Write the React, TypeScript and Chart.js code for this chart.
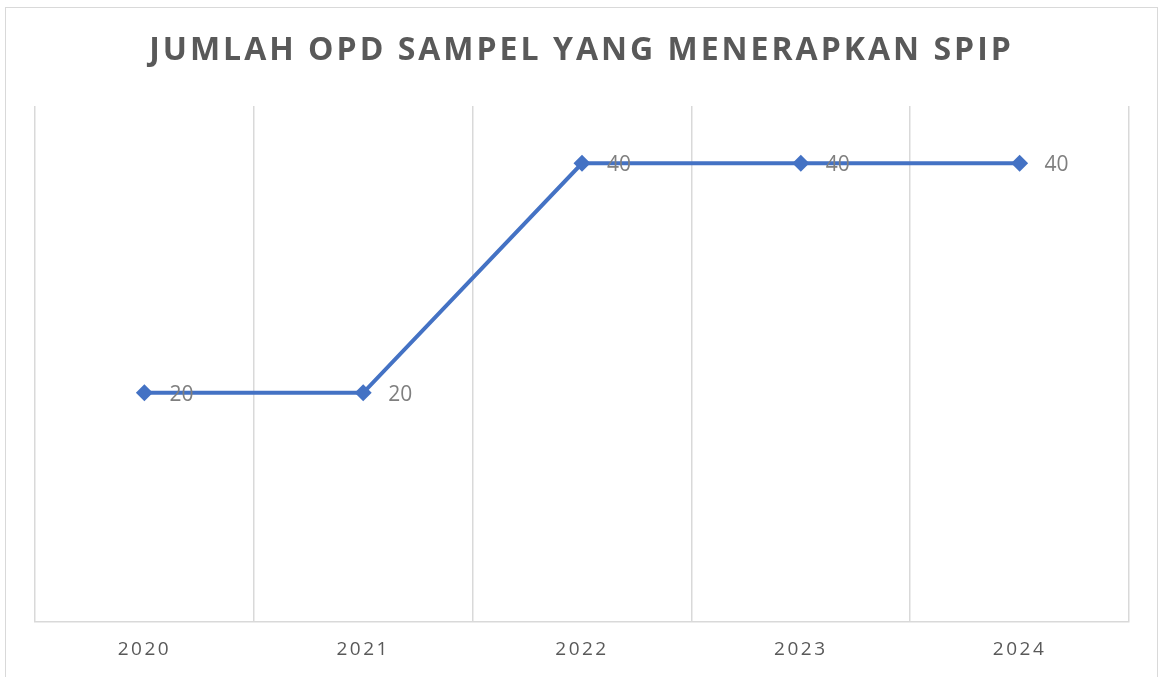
import React, { useEffect, useRef } from "react";
import { Chart, registerables } from "chart.js";

Chart.register(...registerables);

const categories = ["2020", "2021", "2022", "2023", "2024"];
const values = [20, 20, 40, 40, 40];
const chartTitle = "JUMLAH OPD SAMPEL YANG MENERAPKAN SPIP";

const spacingPlugin = {
  id: "spacing",
  beforeDraw(chart: any) {
    chart.ctx.letterSpacing = "2.5px";
  },
};

const labelsPlugin = {
  id: "valueLabels",
  afterDatasetsDraw(chart: any) {
    const ctx = chart.ctx;
    ctx.save();
    ctx.letterSpacing = "0px";
    ctx.font = "21px 'Open Sans'";
    ctx.fillStyle = "#7f7f7f";
    ctx.textAlign = "left";
    ctx.textBaseline = "middle";
    const meta = chart.getDatasetMeta(0);
    meta.data.forEach((pt: any, i: number) => {
      ctx.fillText(String(values[i]), pt.x + 25, pt.y + 2);
    });
    ctx.restore();
  },
};

const titlePlugin = {
  id: "customTitle",
  afterDraw(chart: any) {
    const ctx = chart.ctx;
    ctx.save();
    ctx.letterSpacing = "3px";
    ctx.font = "bold 32px 'Open Sans'";
    ctx.fillStyle = "#595959";
    ctx.textAlign = "center";
    ctx.textBaseline = "middle";
    ctx.fillText(chartTitle, 581.5, 51);
    ctx.restore();
  },
};

export default function App() {
  const ref = useRef<HTMLCanvasElement>(null);
  useEffect(() => {
    document.body.style.margin = "0";
    const chart = new Chart(ref.current!, {
      type: "line",
      data: {
        labels: categories,
        datasets: [
          {
            data: values,
            borderColor: "#4472c4",
            backgroundColor: "#4472c4",
            borderWidth: 4,
            pointStyle: "rectRot",
            pointRadius: 8.5,
            pointBorderWidth: 0,
            pointBackgroundColor: "#4472c4",
            tension: 0,
          },
        ],
      },
      options: {
        animation: false,
        responsive: false,
        maintainAspectRatio: false,
        layout: { padding: { left: 35, right: 31, top: 106, bottom: 0 } },
        plugins: {
          legend: { display: false },
          tooltip: { enabled: false },
          title: { display: false },
        },
        scales: {
          x: {
            offset: true,
            grid: { color: "#d9d9d9", lineWidth: 1.5, drawTicks: false, offset: true },
            border: { color: "#d9d9d9", width: 1.5 },
            ticks: { color: "#595959", font: { family: "'Open Sans'", size: 19 }, padding: 16 },
          },
          y: { display: false, min: 0, max: 45 },
        },
      },
      plugins: [spacingPlugin, labelsPlugin, titlePlugin],
    });
    return () => chart.destroy();
  }, []);
  return (
    <div style={{ position: "relative", width: 1160, height: 677, overflow: "hidden", background: "#fff" }}>
      <div style={{ position: "absolute", left: 5, top: 7, width: 1151, height: 700, border: "1px solid #d9d9d9" }} />
      <canvas ref={ref} width={1160} height={677} style={{ position: "absolute", left: 0, top: 0 }} />
    </div>
  );
}
